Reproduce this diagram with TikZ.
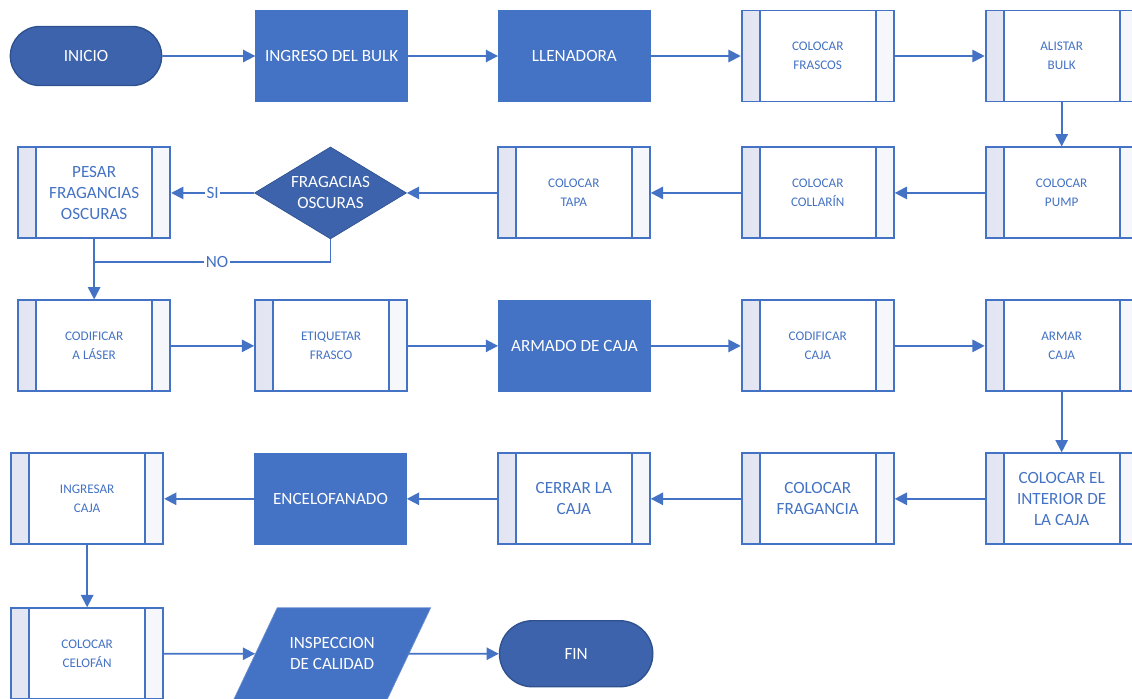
\documentclass[tikz,border=0pt]{standalone}
\usepackage{fontspec}
\setmainfont{Carlito}
\usetikzlibrary{shapes.geometric, shapes.misc, arrows.meta, positioning}
\definecolor{flowblue}{HTML}{4472C4}
\definecolor{termblue}{HTML}{3D63AD}
\definecolor{termline}{HTML}{2F528F}
\definecolor{stripa}{HTML}{E2E5F2}
\definecolor{stripb}{HTML}{F6F7FB}

\begin{document}
\begin{tikzpicture}[
    bigtext/.style={font=\fontsize{9.75pt}{11.9pt}\selectfont},
    smalltext/.style={font=\fontsize{7.5pt}{10.8pt}\selectfont},
    term/.style={draw=termline, rounded rectangle, fill=termblue, text=white, bigtext,
                 minimum width=3.26cm, minimum height=1.18cm, line width=0.8pt},
    proc/.style={draw=flowblue, fill=flowblue, text=white, bigtext, align=center,
                 minimum width=3.04cm, minimum height=1.82cm},
    predef/.style={draw=flowblue, fill=white, text=flowblue, smalltext, align=center,
                 minimum width=3.04cm, minimum height=1.82cm, line width=1.1pt,
                 path picture={
                   \path[left color=stripa, right color=stripb]
                     (path picture bounding box.north west) rectangle
                     ([xshift=0.36cm]path picture bounding box.south west);
                   \path[fill=stripb]
                     ([xshift=-0.36cm]path picture bounding box.north east) rectangle
                     (path picture bounding box.south east);
                   \draw[flowblue, line width=1.1pt]
                     ([xshift=0.36cm]path picture bounding box.north west) --
                     ([xshift=0.36cm]path picture bounding box.south west)
                     ([xshift=-0.36cm]path picture bounding box.north east) --
                     ([xshift=-0.36cm]path picture bounding box.south east);
                 }},
    decision/.style={draw=termline, diamond, fill=termblue, text=white, bigtext, align=center,
                 aspect=1.65, minimum width=3.04cm, minimum height=1.84cm, inner sep=0pt},
    io/.style={draw=flowblue!80!white, trapezium, trapezium left angle=63.4,
                 trapezium right angle=116.6, trapezium stretches body=true, fill=flowblue,
                 text=white, bigtext, align=center, inner ysep=0.55cm,
                 minimum width=3.94cm, minimum height=1.84cm},
    flow/.style={flowblue, line width=1.1pt, ->},
    tag/.style={fill=white, text=flowblue, bigtext, inner sep=1pt},
    >={Triangle[length=7pt, width=7pt]}, node distance=0.9cm and 1.8cm
  ]
    \useasboundingbox (0,0) rectangle (22.64,-13.96);
    \clip (0,0) rectangle (22.64,-13.96);

    % first row
    \node[term] (inicio) at (1.72,-1.12) {INICIO};
    \node[proc, right=1.86cm of inicio] (bulk) {INGRESO DEL BULK};
    \node[proc, right=of bulk] (llenadora) {LLENADORA};
    \node[predef, right=of llenadora] (frascos) {COLOCAR\\FRASCOS};
    \node[predef, right=of frascos] (alistar) {ALISTAR\\BULK};

    % second row
    \node[predef, below=0.88cm of alistar] (pump) {COLOCAR\\PUMP};
    \node[predef, left=of pump] (collarin) {COLOCAR\\COLLARÍN};
    \node[predef, left=of collarin] (tapa) {COLOCAR\\TAPA};
    \node[decision, left=of tapa] (oscuras) {FRAGACIAS\\OSCURAS};
    \node[predef, bigtext, left=1.66cm of oscuras] (pesar) {PESAR\\FRAGANCIAS\\OSCURAS};

    % third row
    \node[predef, below=1.2cm of pump] (armar) {ARMAR\\CAJA};
    \node[predef, left=of armar] (codcaja) {CODIFICAR\\CAJA};
    \node[proc, left=of codcaja] (armado) {ARMADO DE CAJA};
    \node[predef, left=of armado] (etiquetar) {ETIQUETAR\\FRASCO};
    \node[predef, left=1.66cm of etiquetar] (laser) {CODIFICAR\\A LÁSER};

    % fourth row
    \node[predef, bigtext, below=1.2cm of armar] (interior) {COLOCAR EL\\INTERIOR DE\\LA CAJA};
    \node[predef, bigtext, left=of interior] (fragancia) {COLOCAR\\FRAGANCIA};
    \node[predef, bigtext, left=of fragancia] (cerrar) {CERRAR LA\\CAJA};
    \node[proc, left=of cerrar] (encelo) {ENCELOFANADO};
    \node[predef, left=of encelo] (ingresar) {INGRESAR\\CAJA};

    % last row
    \node[predef, below=1.24cm of ingresar] (celofan) {COLOCAR\\CELOFÁN};
    \node[io] (insp) at ([xshift=4.9cm]celofan.center) {INSPECCION\\DE CALIDAD};
    \node[term, minimum width=3.3cm, minimum height=1.32cm] (fin) at ([xshift=4.88cm]insp.center) {FIN};

    \draw[flow] (inicio) -- (bulk);
    \draw[flow] (bulk) -- (llenadora);
    \draw[flow] (llenadora) -- (frascos);
    \draw[flow] (frascos) -- (alistar);
    \draw[flow] (alistar) -- (pump);
    \draw[flow] (pump) -- (collarin);
    \draw[flow] (collarin) -- (tapa);
    \draw[flow] (tapa) -- (oscuras);
    \draw[flow] (oscuras) -- node[tag]{SI} (pesar);
    \coordinate[below=0.46cm of pesar.south] (nojoin);
    \draw[flowblue, line width=1.1pt] (oscuras.south) |- node[tag, pos=0.74]{NO} (nojoin);
    \draw[flow] (pesar) -- (laser);
    \draw[flow] (laser) -- (etiquetar);
    \draw[flow] (etiquetar) -- (armado);
    \draw[flow] (armado) -- (codcaja);
    \draw[flow] (codcaja) -- (armar);
    \draw[flow] (armar) -- (interior);
    \draw[flow] (interior) -- (fragancia);
    \draw[flow] (fragancia) -- (cerrar);
    \draw[flow] (cerrar) -- (encelo);
    \draw[flow] (encelo) -- (ingresar);
    \draw[flow] (ingresar) -- (celofan);
    \draw[flow] (celofan) -- (insp);
    \draw[flow] (insp) -- (fin);
  \end{tikzpicture}
\end{document}
